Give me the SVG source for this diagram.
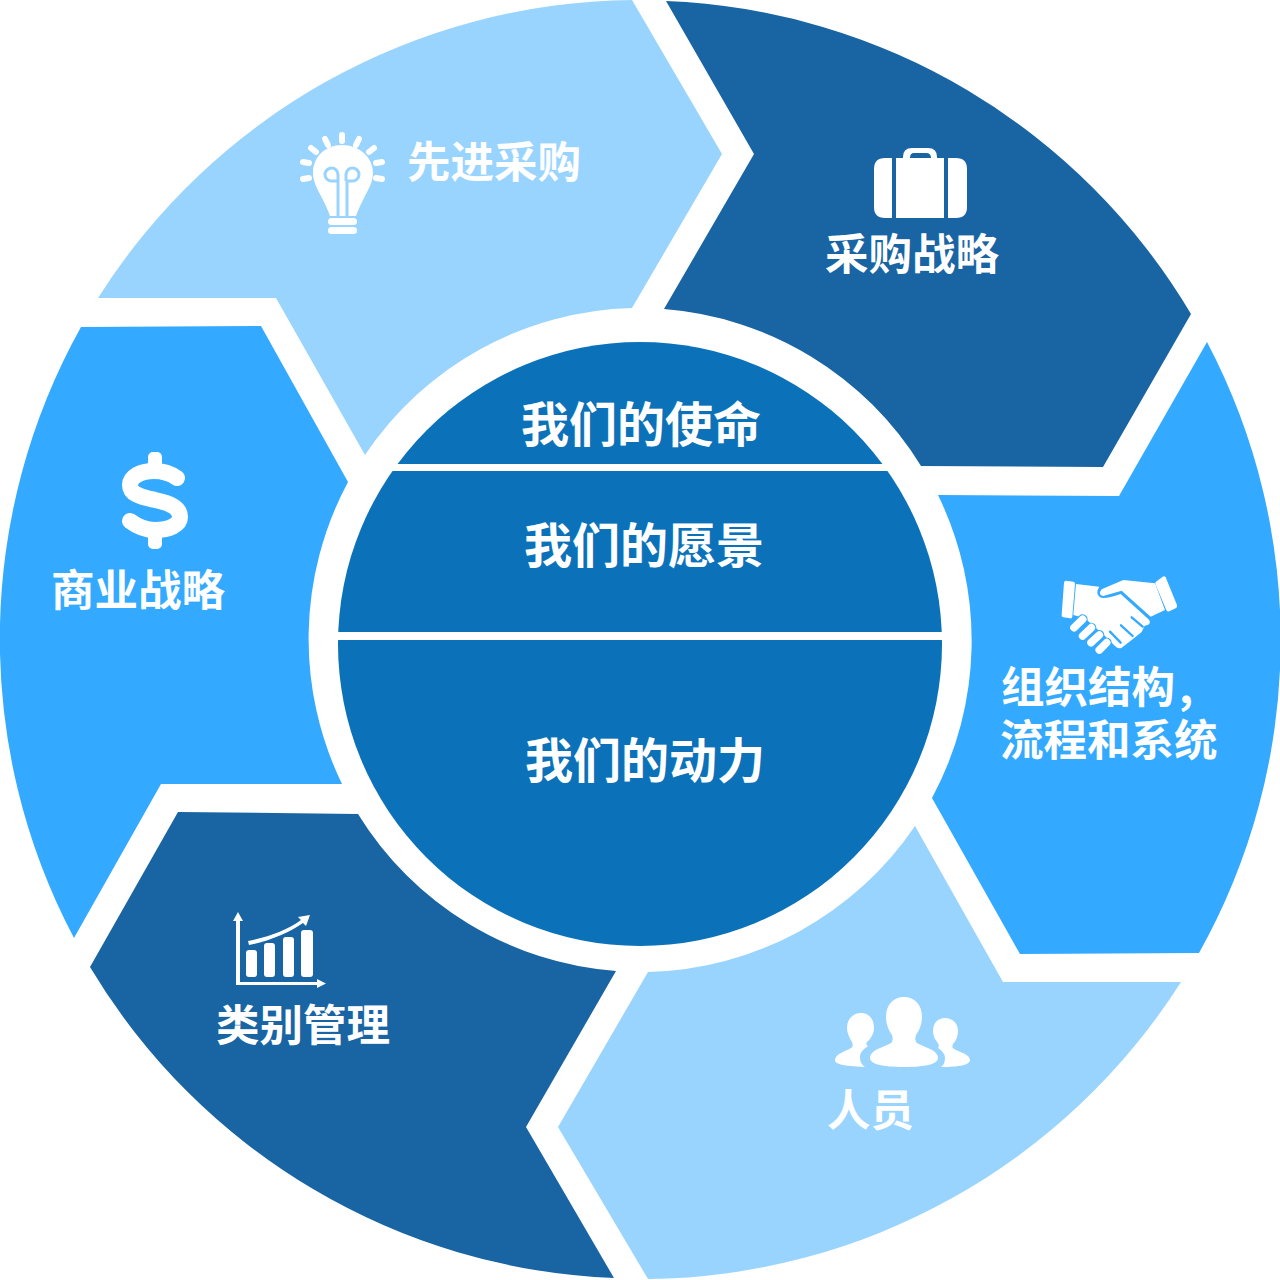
<svg xmlns="http://www.w3.org/2000/svg" width="1280" height="1280" viewBox="0 0 1280 1280">
<style>
.l{fill:#99d4ff}.d{fill:#1964a3}.m{fill:#33aaff}.c{fill:#0b72b9}
text{font-family:"Noto Sans CJK SC","Noto Sans",sans-serif;font-weight:700;fill:#fff}
.t{font-size:43.5px}.h{font-size:48px}
.i{fill:#fff}
</style>
<rect width="1280" height="1280" fill="#fff"/>
<g id="seg-xianjin"><path class="l" d="M98 298A640 640 0 0 1 632 0L722 154L632 308A332 332 0 0 0 365 455L276 298Z"/>
<g class="i"><path d="M342 145c-17 0-29 12-29 28 0 9 5 17 9 25 3 6 6 12 8 18h26c2-6 5-12 8-18 4-8 9-16 9-25 0-16-14-28-31-28z"/>
<path fill="none" stroke="#99d4ff" stroke-width="3" d="M338 217V181H332a6.500 6.500 0 1 1 6-6.500V181M347 217V181H352a6.500 6.500 0 1 0-6-6.500V181"/>
<rect x="328" y="218" width="29" height="7" rx="3.500"/><rect x="328" y="227" width="29" height="7" rx="3.500"/>
<path stroke="#fff" stroke-width="6" stroke-linecap="round" fill="none" d="M342 135v6M325 139l3 6M359 139l-3 6M311 148l5 4M374 148l-5 4M303 162l6 1M382 162l-6 1M303 179l6-1M382 179l-6-1"/></g>
<text class="t" x="407" y="178">先进采购</text></g>
<g id="seg-caigou"><path class="d" d="M666 1A640 640 0 0 1 1191 314L1103 467L921 466A332 332 0 0 0 664 309L754 154Z"/>
<g class="i"><path d="M903 160V157Q903 148 912 148H928Q937 148 937 157V160H931V158Q931 153 926 153H914Q910 153 910 158V160Z"/>
<path d="M896 158H944V218H896Z"/><path d="M892 158V218H885Q874 218 874 207V169Q874 158 885 158ZM948 158H956Q967 158 967 169V207Q967 218 956 218H948Z"/></g>
<text class="t" x="825" y="270">采购战略</text></g>
<g id="seg-zuzhi"><path class="m" d="M1207 342A640 640 0 0 1 1199 953L1020 954L932 798A332 332 0 0 0 938 495L1119 496Z"/>
<g transform="translate(990 560) scale(.3333)"><g class="i">
<path d="M228 62L250 65Q256 66 255 72L247 170Q246 176 240 175L220 172Q214 171 215 165L222 68Q223 62 228 62Z"/>
<path d="M497 66L518 50Q524 46 527 52L561 135Q563 142 557 145L538 154Q532 156 529 150L497 74Q495 69 497 66Z"/>
<path d="M335 88L400 60L495 70L525 150L482 170L395 92L340 108Q322 105 335 88Z"/>
<path d="M258 72L328 80Q315 100 330 112Q345 118 392 102L478 180Q485 195 464 197L455 216L430 236L395 263Q385 268 375 258L345 228L285 175L250 165Z"/></g>
<g fill="none" stroke="#33aaff" stroke-linecap="round"><path stroke-width="7" d="M425 172L458 200M393 196L428 228M360 215L392 248"/>
<path stroke-width="30" d="M252 203L278 178M278 228L304 203M303 248L328 225M328 270L350 248"/></g>
<path fill="none" stroke="#fff" stroke-width="23" stroke-linecap="round" d="M252 203L278 178M278 228L304 203M303 248L328 225M328 270L350 248"/></g>
<text class="t" x="1001" y="703">组织结构<tspan dx="4">,</tspan></text><text class="t" x="1000" y="756">流程和系统</text></g>
<g id="seg-renyuan"><path class="l" d="M1181 982A640 640 0 0 1 648 1279L558 1127L648 972A332 332 0 0 0 915 826L1003 982Z"/>
<g class="i"><path d="M904 997c-11 0-18 8-18 20 0 7 3 14 6 18 1 3 1 6-1 8-7 4-21 7-21 15 0 6 12 9 34 9s34-3 34-9c0-8-14-11-21-15-2-2-2-5-1-8 3-4 6-11 6-18 0-12-7-20-18-20z"/>
<path d="M861 1013c-8 0-14 6-14 15 0 5 3 11 5 14 1 3 1 5-1 6-5 3-16 6-16 12 0 4 8 6 30 7-3-2-5-5-5-10 0-5 4-8 8-11-2-1-2-3-1-4 4-3 7-9 7-14 0-9-5-15-13-15z"/>
<path d="M945 1018c-7 0-12 5-12 13 0 5 2 9 5 12 1 2 1 4 0 5 3 2 7 5 7 10 0 4-1 7-4 9 18 0 29-2 29-7 0-6-11-8-16-11-2-1-2-3-1-5 3-3 5-8 5-13 0-8-6-13-13-13z"/></g>
<text class="t" x="827" y="1126">人员</text></g>
<g id="seg-leibie"><path class="d" d="M90 967A640 640 0 0 0 614 1278L526 1127L616 971A332 332 0 0 1 358 814L178 812Z"/>
<g class="i"><path d="M238 912l-5 9h3v64h81v3l9-4.500-9-4.500v3h-77v-61h3z"/>
<path d="M248 941c20-4 40-11 53-21l-3-3 12-2-4 11-3-3c-14 10-34 18-54 22z"/>
<rect x="246" y="950" width="11" height="27" rx="3"/><rect x="264" y="943" width="11" height="34" rx="3"/><rect x="283" y="937" width="11" height="40" rx="3"/><rect x="301" y="930" width="12" height="47" rx="3"/></g>
<text class="t" x="216" y="1041">类别管理</text></g>
<g id="seg-shangye"><path class="m" d="M74 938A640 640 0 0 1 81 327L261 326L348 482A332 332 0 0 0 342 784L161 784Z"/>
<g class="i"><rect x="148" y="452" width="14" height="24" rx="5"/><rect x="148" y="525" width="14" height="24" rx="5"/>
<path fill="none" stroke="#fff" stroke-width="16" stroke-linecap="round" d="M177 478C170 473 163 471 154 471C140 471 130 477 130 485C130 495 142 497 155 500C169 503 180 507 180 517C180 525 169 530 155 530C146 530 138 527 130 521"/></g>
<text class="t" x="51" y="606">商业战略</text></g>
<g id="core">
<circle class="c" cx="640" cy="644" r="302"/>
<rect x="390" y="464" width="500" height="7" fill="#fff"/><rect x="330" y="632" width="620" height="8" fill="#fff"/>
<text class="h" x="521" y="442">我们的使命</text><text class="h" x="524" y="563">我们的愿景</text><text class="h" x="525" y="778">我们的动力</text></g>
</svg>
